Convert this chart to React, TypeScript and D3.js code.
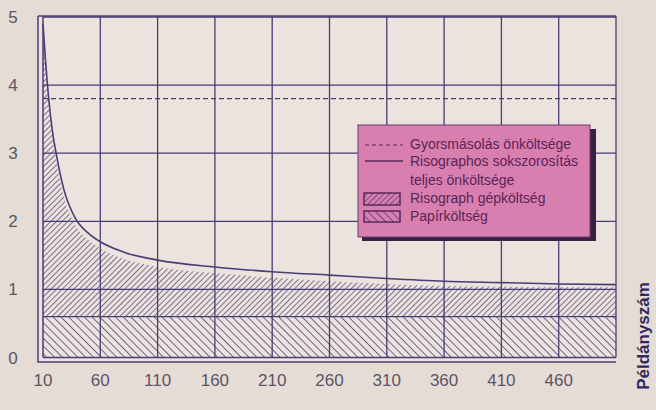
import * as React from "react";
import * as d3 from "d3";

// példányszám (copies) and the costs
const copies = [10, 12, 15, 18, 22, 28, 38, 50, 60, 80, 110, 160, 210, 260, 310, 360, 410, 460, 510];
const totalCost = [4.9, 4.4, 3.8, 3.35, 2.95, 2.48, 2.05, 1.82, 1.7, 1.55, 1.43, 1.33, 1.26, 1.21, 1.16, 1.12, 1.1, 1.08, 1.07];
const machineCost = [4.85, 4.3, 3.7, 3.25, 2.84, 2.37, 1.95, 1.72, 1.6, 1.45, 1.33, 1.24, 1.17, 1.12, 1.08, 1.05, 1.04, 1.03, 1.03];
const paperCost = 0.6;
const copyCost = 3.8;

const xTicks = [10, 60, 110, 160, 210, 260, 310, 360, 410, 460];
const yTicks = [0, 1, 2, 3, 4, 5];
const legendLabels = [
  "Gyorsmásolás önköltsége",
  "Risographos sokszorosítás",
  "teljes önköltsége",
  "Risograph gépköltség",
  "Papírköltség",
];

const ink = "#4a3d72";
const font = "'Liberation Sans Narrow', 'Arial Narrow', 'Liberation Sans', sans-serif";

export default function App() {
  const x = d3.scaleLinear().domain([10, 510]).range([43, 616]);
  const y = d3.scaleLinear().domain([0, 5]).range([357.5, 17]);

  const pts = copies.map((c, i) => ({ c, total: totalCost[i], machine: machineCost[i] }));

  const machineArea = d3
    .area<any>()
    .x((d) => x(d.c))
    .y0(y(paperCost))
    .y1((d) => y(d.machine))
    .curve(d3.curveMonotoneX)(pts);
  const paperArea = d3
    .area<any>()
    .x((d) => x(d.c))
    .y0(y(0))
    .y1(y(paperCost))(pts);
  const totalLine = d3
    .line<any>()
    .x((d) => x(d.c))
    .y((d) => y(d.total))
    .curve(d3.curveMonotoneX)(pts);

  const gridX = [...xTicks.slice(1), 510];

  return (
    <svg
      width={656}
      height={410}
      style={{ position: "absolute", left: 0, top: 0, background: "#e5dcd6" }}
    >
      <defs>
        <pattern id="machine" width="4" height="4" patternUnits="userSpaceOnUse" patternTransform="rotate(45)">
          <line x1="0" y1="0" x2="0" y2="4" stroke={ink} strokeWidth="1.4" />
        </pattern>
        <pattern id="paper" width="5.5" height="5.5" patternUnits="userSpaceOnUse" patternTransform="rotate(-45)">
          <line x1="0" y1="0" x2="0" y2="5.5" stroke={ink} strokeWidth="1.5" />
        </pattern>
      </defs>

      <rect x={38} y={16} width={578} height={346} fill="#ebe3dd" />

      <path d={paperArea || ""} fill="url(#paper)" />
      <path d={machineArea || ""} fill="url(#machine)" />

      {/* grid */}
      {gridX.map((v) => (
        <line key={"gx" + v} x1={x(v)} x2={x(v)} y1={16} y2={y(0)} stroke={ink} strokeWidth={1.3} />
      ))}
      {yTicks.slice(1).map((v) => (
        <line key={"gy" + v} x1={x(10)} x2={x(510)} y1={y(v)} y2={y(v)} stroke={ink} strokeWidth={1.3} />
      ))}
      <line x1={x(10)} x2={x(510)} y1={y(paperCost)} y2={y(paperCost)} stroke={ink} strokeWidth={1.3} />

      {/* frame */}
      <line x1={x(10)} x2={x(510)} y1={y(0)} y2={y(0)} stroke={ink} strokeWidth={1.5} />
      <line x1={x(10)} x2={x(10)} y1={16} y2={y(0)} stroke={ink} strokeWidth={1.5} />
      <path d="M38,16 L38,362 L616,362" fill="none" stroke={ink} strokeWidth={1.5} />
      <line x1={38} x2={616} y1={16} y2={16} stroke={ink} strokeWidth={1.5} />

      <line
        x1={x(10)}
        x2={x(510)}
        y1={y(copyCost)}
        y2={y(copyCost)}
        stroke={ink}
        strokeWidth={1.3}
        strokeDasharray="5,3"
      />
      <path d={totalLine || ""} fill="none" stroke={ink} strokeWidth={1.6} />

      {/* tick labels */}
      {yTicks.map((v) => (
        <text key={"yt" + v} x={13} y={y(v) + 6} textAnchor="middle" fontFamily={font} fontSize={17} fill="#5b5566">
          {v}
        </text>
      ))}
      {xTicks.map((v) => (
        <text key={"xt" + v} x={x(v)} y={386} textAnchor="middle" fontFamily={font} fontSize={17} fill="#5b5566">
          {v}
        </text>
      ))}
      <text
        transform="translate(649,336) rotate(-90)"
        textAnchor="middle"
        fontFamily={font}
        fontWeight="bold"
        fontSize={17}
        fill="#2e2a5e"
      >
        Példányszám
      </text>

      {/* legend */}
      <g>
        <rect x={362} y={129} width={234} height={112} fill="#3a1f45" />
        <rect x={358} y={125} width={232} height={112} fill="#d87fb0" stroke="#6a3d70" strokeWidth={1} />
        <line x1={365} x2={403} y1={145} y2={145} stroke="#5a2a5a" strokeWidth={1.2} strokeDasharray="4,3" />
        <line x1={365} x2={403} y1={161} y2={161} stroke="#5a2a5a" strokeWidth={1.4} />
        <rect x={364} y={193} width={36} height={12} fill="url(#machine)" stroke="#5a2a5a" strokeWidth={1.5} />
        <rect x={364} y={211} width={36} height={11} fill="url(#paper)" stroke="#5a2a5a" strokeWidth={1.5} />
        {legendLabels.map((t, i) => (
          <text
            key={t}
            x={410}
            y={[149, 166, 185, 203, 221][i]}
            fontFamily={font}
            fontSize={14}
            fill="#5a2456"
          >
            {t}
          </text>
        ))}
      </g>
    </svg>
  );
}
